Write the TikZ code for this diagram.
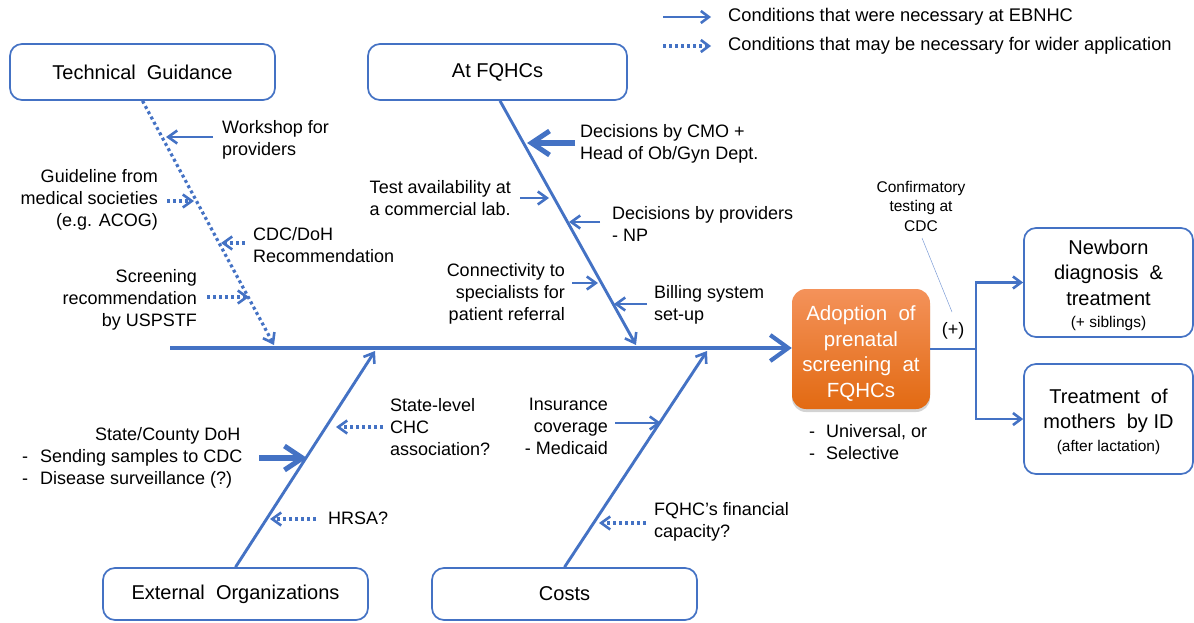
\documentclass[tikz,border=0pt]{standalone}
\usepackage{fontspec}
\setmainfont{Liberation Sans}
\usetikzlibrary{arrows.meta,shadows}
\definecolor{bl}{HTML}{4472C4}
\definecolor{orT}{HTML}{F4925A}
\definecolor{orB}{HTML}{E26A12}
\begin{document}
\begin{tikzpicture}[x=1pt,y=-1pt,
  catbox/.style={draw=bl, line width=1.7pt, rounded corners=12pt, fill=white,
    font=\fontsize{20}{24}\selectfont, align=center},
  outbox/.style={catbox, font=\fontsize{20}{25.5}\selectfont},
  lbl/.style={font=\fontsize{18}{22}\selectfont, inner sep=0pt},
  small/.style={font=\fontsize{15.5}{19.5}\selectfont},
  bone/.style={draw=bl, line width=2.9pt,
    -{Straight Barb[length=9pt,width=13pt,line width=2.6pt]}},
  dotbone/.style={bone, line width=3.2pt, dash pattern=on 3pt off 3pt},
  sub/.style={draw=bl, line width=2.9pt,
    -{Straight Barb[length=9pt,width=13pt,line width=2.6pt]}},
  dotsub/.style={sub, line width=3.2pt, dash pattern=on 3pt off 3pt},
  thicksub/.style={draw=bl, line width=5.5pt,
    -{Straight Barb[length=18pt,width=24pt,line width=5pt]}},
  spine/.style={draw=bl, line width=4.8pt,
    -{Straight Barb[length=18pt,width=26pt,line width=4.2pt]}},
  conn/.style={draw=bl, line width=2.9pt},
  legarrow/.style={draw=bl, line width=2.9pt,
    -{Straight Barb[length=8pt,width=12pt,line width=2.6pt]}},
]
\useasboundingbox (0,0) rectangle (1194,623);

% category boxes
\node[catbox, minimum width=265pt, minimum height=56pt] (tech) at (142.5,72) {Technical\ \ Guidance};
\node[catbox, minimum width=259pt, minimum height=56pt] (fqhc) at (497.5,72) {At FQHCs};
\node[catbox, minimum width=265pt, minimum height=52pt] (ext) at (235.5,594) {External\ \ Organizations};
\node[catbox, minimum width=265pt, minimum height=52pt] (costs) at (564.5,594) {Costs};

% central outcome
\node[rounded corners=14pt, minimum width=138pt, minimum height=120pt,
  top color=orT, bottom color=orB, draw=none, text=white,
  drop shadow={opacity=0.35, shadow xshift=0pt, shadow yshift=-3pt},
  font=\fontsize{20.5}{25.5}\selectfont, align=center] (adopt) at (861,349)
  {\rule{0pt}{24pt}Adoption\ \ of\\prenatal\\screening\ \ at\\FQHCs};

% outcome boxes
\node[outbox, minimum width=169pt, minimum height=109pt] (nb) at (1108.5,282.5)
  {\rule{0pt}{20pt}Newborn\\diagnosis\ \ \&\\treatment\\[-3pt]{\fontsize{15.5}{18}\selectfont (+ siblings)}};
\node[outbox, minimum width=169pt, minimum height=110pt] (mo) at (1108.5,419)
  {\rule{0pt}{20pt}Treatment\ \ of\\mothers\ \ by ID\\[-3pt]{\fontsize{15.5}{18}\selectfont (after lactation)}};

% spine
\coordinate (sp0) at (170,348);
\draw[spine] (sp0) -- (adopt.west |- sp0);

% bones
\coordinate (techEnd) at (274,345);
\coordinate (fqhcEnd) at (636,345);
\coordinate (extEnd) at (375,351);
\coordinate (costEnd) at (707,351);
\draw[dotbone] (tech.south) -- (techEnd);
\draw[bone] (fqhc.south -| 500,0) -- (fqhcEnd);
\draw[bone] (ext.north) -- (extEnd);
\draw[bone] (costs.north) -- (costEnd);

% Technical guidance causes
\node[lbl, align=left, anchor=west] (workshop) at (222,140) {Workshop for\\providers};
\coordinate (a1s) at (213,137); \coordinate (a1e) at (166,137);
\draw[sub] (a1s) -- (a1e);

\node[lbl, align=right, anchor=east] (guide) at (158,200) {Guideline from\\medical societies\\(e.g. ACOG)};
\coordinate (a2s) at (167,201); \coordinate (a2e) at (194,201);
\draw[dotsub] (a2s) -- (a2e);

\node[lbl, align=left, anchor=west] (cdcdoh) at (253,245) {CDC/DoH\\Recommendation};
\coordinate (a3s) at (245,243); \coordinate (a3e) at (221,243);
\draw[dotsub] (a3s) -- (a3e);

\node[lbl, align=right, anchor=east] (uspstf) at (197,300) {Screening\\recommendation\\by USPSTF};
\coordinate (a4s) at (207,297); \coordinate (a4e) at (249,297);
\draw[dotsub] (a4s) -- (a4e);

% At FQHCs causes
\node[lbl, align=left, anchor=west] (cmo) at (580,144) {Decisions by CMO +\\Head of Ob/Gyn Dept.};
\coordinate (b1s) at (575,143); \coordinate (b1e) at (527,143);
\draw[thicksub] (b1s) -- (b1e);

\node[lbl, align=left, anchor=east] (test) at (511,198) {Test availability at\\a commercial lab.};
\coordinate (b2s) at (520,198); \coordinate (b2e) at (549,198);
\draw[sub] (b2s) -- (b2e);

\node[lbl, align=left, anchor=west] (prov) at (612,224) {Decisions by providers\\- NP};
\coordinate (b3s) at (600,222); \coordinate (b3e) at (569,222);
\draw[sub] (b3s) -- (b3e);

\node[lbl, align=right, anchor=east] (connect) at (565,294) {Connectivity to\\specialists for\\patient referral};
\coordinate (b4s) at (572,283); \coordinate (b4e) at (598,283);
\draw[sub] (b4s) -- (b4e);

\node[lbl, align=left, anchor=west] (billing) at (654,305) {Billing system\\set-up};
\coordinate (b5s) at (647,304); \coordinate (b5e) at (614,304);
\draw[sub] (b5s) -- (b5e);

% External organizations causes
\node[lbl, anchor=west] (doh) at (22,458) {%
  \begin{tabular}{@{}l@{\hspace{12pt}}l@{}}
  \multicolumn{2}{r@{\hspace{2pt}}}{State/County DoH}\\
  -&Sending samples to CDC\\
  -&Disease surveillance (?)
  \end{tabular}};
\coordinate (c1s) at (259,458); \coordinate (c1e) at (307,458);
\draw[thicksub] (c1s) -- (c1e);

\node[lbl, align=left, anchor=west] (chc) at (390,427) {State-level\\CHC\\association?};
\coordinate (c2s) at (383,427); \coordinate (c2e) at (336,427);
\draw[dotsub] (c2s) -- (c2e);

\node[lbl, anchor=west] (hrsa) at (328,518) {HRSA?};
\coordinate (c3s) at (316,519); \coordinate (c3e) at (270,519);
\draw[dotsub] (c3s) -- (c3e);

% Costs causes
\node[lbl, align=right, anchor=east] (insur) at (608,426) {Insurance\\coverage\\- Medicaid};
\coordinate (d1s) at (615,423); \coordinate (d1e) at (661,423);
\draw[sub] (d1s) -- (d1e);

\node[lbl, align=left, anchor=west] (fin) at (654,522) {FQHC’s financial\\capacity?};
\coordinate (d2s) at (646,523); \coordinate (d2e) at (599,523);
\draw[dotsub] (d2s) -- (d2e);

% outcome connectors
\coordinate (split) at (976,349);
\draw[conn] (adopt.east) -- (split);
\draw[legarrow] (split) |- (nb.west);
\draw[legarrow] (split) |- (mo.west);
\node[lbl] (plus) at (953,331) {(+)};

\node[small, align=center, inner sep=0pt] (conf) at (921,206) {Confirmatory\\testing at\\CDC};
\coordinate (confEnd) at (952,312);
\draw[bl!70, line width=0.5pt] (922,238) -- (confEnd);

\node[lbl, anchor=west] (univ) at (809,444) {%
  \begin{tabular}{@{}l@{\hspace{11pt}}l@{}}
  -&Universal, or\\
  -&Selective
  \end{tabular}};

% legend
\coordinate (l1s) at (663,17); \coordinate (l1e) at (711,17);
\draw[legarrow] (l1s) -- (l1e);
\node[lbl, font=\fontsize{18.3}{22}\selectfont, anchor=west] (leg1) at (728,17) {Conditions that were necessary at EBNHC};
\coordinate (l2s) at (663,46); \coordinate (l2e) at (711,46);
\draw[legarrow, line width=3.2pt, dash pattern=on 3pt off 3pt] (l2s) -- (l2e);
\node[lbl, font=\fontsize{18.3}{22}\selectfont, anchor=west] (leg2) at (728,46) {Conditions that may be necessary for wider application};
\end{tikzpicture}
\end{document}
